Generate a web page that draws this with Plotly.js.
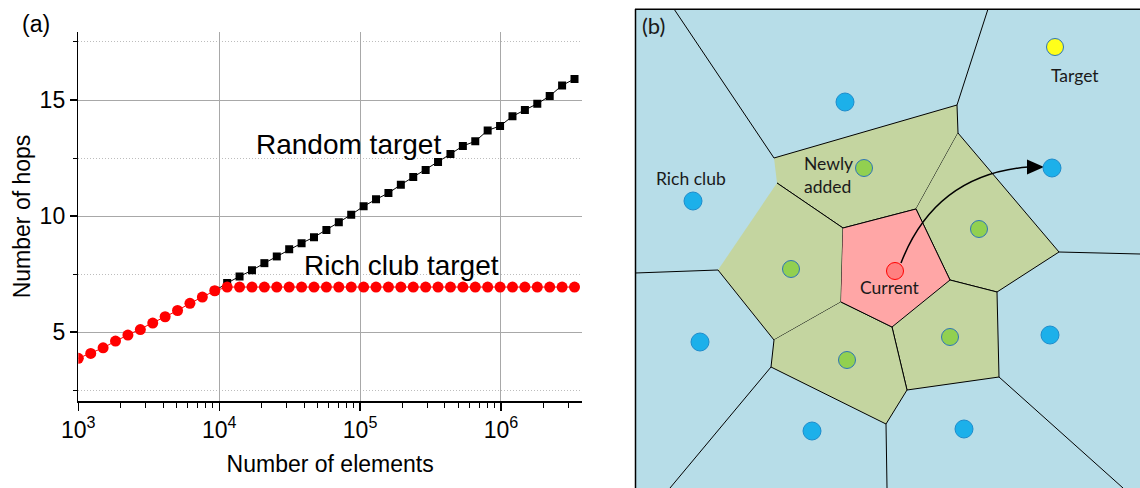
<!DOCTYPE html>
<html><head><meta charset="utf-8">
<script src="https://cdn.plot.ly/plotly-3.0.1.min.js"></script>
<style>html,body{margin:0;padding:0;background:#fff;}#chart{width:1140px;height:488px;}</style>
</head><body><div id="chart"></div>
<script>
// ---------- Panel (a) data ----------
const elements = [1000,1225,1500,1837,2250,2756,3375,4134,5063,6200,7594,9300,
  11391,13950,17086,20926,25629,31389,38443,47083,57665,70625,86498,105937,129746,
  158906,194620,238359,291929,357538,437894,536307,656841,804463,985261,1206693,
  1477892,1810039,2216838,2715057,3325257];
const richClubHops = [3.87,4.08,4.32,4.61,4.87,5.11,5.39,5.66,5.93,6.24,6.51,6.78,
  6.94,6.94,6.94,6.94,6.94,6.94,6.94,6.94,6.94,6.94,6.94,6.94,6.94,6.94,6.94,6.94,
  6.94,6.94,6.94,6.94,6.94,6.94,6.94,6.94,6.94,6.94,6.94,6.94,6.94];
const randomElements = [9300,11391,13950,17086,20926,25629,31389,38443,47083,57665,70625,
  86498,105937,129746,158906,194620,238359,291929,357538,437894,536307,656841,804463,
  985261,1206693,1477892,1810039,2216838,2715057,3325257];
const randomHops = [6.78,7.11,7.40,7.66,7.97,8.26,8.57,8.83,9.09,9.40,9.73,10.06,10.42,
  10.72,10.99,11.35,11.68,11.98,12.33,12.67,13.02,13.22,13.69,13.88,14.30,14.57,14.84,
  15.17,15.63,15.91];
const xTickVals = [1e3,1e4,1e5,1e6];
const xTickText = ['10<sup>3</sup>','10<sup>4</sup>','10<sup>5</sup>','10<sup>6</sup>'];
const xMinorVals = [2e3,3e3,4e3,5e3,6e3,7e3,8e3,9e3,2e4,3e4,4e4,5e4,6e4,7e4,8e4,9e4,
  2e5,3e5,4e5,5e5,6e5,7e5,8e5,9e5,2e6,3e6];
const yTickVals = [5,10,15];
const yMinorVals = [2.5,7.5,12.5,17.5];

// ---------- Panel (b) data (diagram coordinates) ----------
const currentCellX = [843,916,950,892,841];
const currentCellY = [228,209,280,327,302];
const newCells = [
  {x:[774,957,958,916,843,777], y:[158,105,133,209,228,183]},
  {x:[777,843,841,774,718],     y:[183,228,302,340,270]},
  {x:[958,1059,997,950,916],    y:[133,252,292,280,209]},
  {x:[950,997,999,907,892],     y:[280,292,377,390,327]},
  {x:[841,892,907,886,771,774], y:[302,327,390,424,367,340]}
];
const richEdgesX = [674,774,null,988,957,null,1059,1140,null,999,1123,null,886,887,null,771,670,null,718,635];
const richEdgesY = [9,158,null,9,105,null,252,254,null,377,488,null,424,488,null,367,488,null,270,273];
const richDotsX = [845,693,1052,700,812,1050,964];
const richDotsY = [102,201,168,342,431,335,429];
const newDotsX = [864,979,791,847,950];
const newDotsY = [168,229,269,360,337];
const currentDot = [895,271];
const targetDot = [1055,47];
const arrowCurveX = [901,935,1028];
const arrowCurveY = [263,175,167];
const arrowHeadX = [1027,1044,1027];
const arrowHeadY = [159.5,167,174.5];

const W = 1140, H = 488;
const px = v => v / W, py = v => 1 - v / H;

const traces = [];
// panel (b) cells
traces.push({x:[635,1140,1140,635], y:[9,9,488,488], xaxis:'x2', yaxis:'y2', mode:'none',
  fill:'toself', fillcolor:'#B7DDE8', hoverinfo:'skip'});
newCells.forEach(c => traces.push({x:c.x, y:c.y, xaxis:'x2', yaxis:'y2', mode:'lines',
  fill:'toself', fillcolor:'#C4D5A0', line:{color:'#000', width:1}, hoverinfo:'skip'}));
traces.push({x:currentCellX, y:currentCellY, xaxis:'x2', yaxis:'y2', mode:'lines',
  fill:'toself', fillcolor:'#FFA6A6', line:{color:'#000', width:1}, hoverinfo:'skip'});
traces.push({x:richEdgesX, y:richEdgesY, xaxis:'x2', yaxis:'y2', mode:'lines',
  line:{color:'#000', width:1}, connectgaps:false, hoverinfo:'skip'});
traces.push({x:arrowHeadX, y:arrowHeadY, xaxis:'x2', yaxis:'y2', mode:'none',
  fill:'toself', fillcolor:'#000', hoverinfo:'skip'});
traces.push({x:richDotsX, y:richDotsY, xaxis:'x2', yaxis:'y2', mode:'markers',
  marker:{size:18, color:'#1CB0EA', line:{color:'#1E8CCB', width:1}}});
traces.push({x:newDotsX, y:newDotsY, xaxis:'x2', yaxis:'y2', mode:'markers',
  marker:{size:17, color:'#92D050', line:{color:'#2E75B6', width:1}}});
traces.push({x:[currentDot[0]], y:[currentDot[1]], xaxis:'x2', yaxis:'y2', mode:'markers',
  marker:{size:17, color:'#FF8080', line:{color:'#FF0000', width:1}}});
traces.push({x:[targetDot[0]], y:[targetDot[1]], xaxis:'x2', yaxis:'y2', mode:'markers',
  marker:{size:17, color:'#FFFF1A', line:{color:'#2E75B6', width:1}}});

// panel (a)
traces.push({x:randomElements, y:randomHops, mode:'lines+markers', name:'Random target',
  line:{color:'#000', width:1}, marker:{symbol:'square', size:8, color:'#000'}});
traces.push({x:elements, y:richClubHops, mode:'lines+markers', name:'Rich club target',
  line:{color:'#FF0000', width:1}, marker:{symbol:'circle', size:11, color:'#FF0000'}});

const curvePath = 'M ' + arrowCurveX[0] + ',' + arrowCurveY[0] + ' Q ' + arrowCurveX[1] + ',' +
  arrowCurveY[1] + ' ' + arrowCurveX[2] + ',' + arrowCurveY[2];

const fontA = '"Liberation Sans", Arial, sans-serif';
const fontB = 'Lato, "Open Sans", sans-serif';
const ann = (text, x, y, size, family, color) => ({text, xref:'paper', yref:'paper', x:px(x), y:py(y),
  xanchor:'center', yanchor:'middle', showarrow:false, font:{family, size, color}});

const layout = {
  width:W, height:H, margin:{l:0,r:0,t:0,b:0}, showlegend:false,
  paper_bgcolor:'#fff', plot_bgcolor:'rgba(0,0,0,0)',
  font:{family:fontA, size:23, color:'#000'},
  xaxis:{type:'log', domain:[78.3/W, 582/W], range:[3, 6.575], anchor:'y',
    tickvals:xTickVals, ticktext:xTickText, ticks:'outside', ticklen:8, tickwidth:1.2,
    tickcolor:'#000', showline:true, linecolor:'#000', linewidth:1.5,
    showgrid:true, gridcolor:'#A8A8A8', gridwidth:1, zeroline:false,
    tickfont:{family:fontA, size:23, color:'#000'},
    minor:{tickvals:xMinorVals, ticks:'outside', ticklen:5, tickcolor:'#000', tickwidth:1, showgrid:false},
    title:{text:'Number of elements', font:{family:fontA, size:23, color:'#000'}, standoff:14}},
  yaxis:{domain:[1-401/H, 1-32/H], range:[2.03, 17.93], anchor:'x',
    tickvals:yTickVals, ticks:'outside', ticklen:7, tickwidth:1.2, tickcolor:'#000',
    showline:true, linecolor:'#000', linewidth:1.5,
    showgrid:true, gridcolor:'#A8A8A8', gridwidth:1, zeroline:false,
    tickfont:{family:fontA, size:23, color:'#000'},
    minor:{tickvals:yMinorVals, ticks:'outside', ticklen:4, tickcolor:'#000', tickwidth:1,
      showgrid:true, gridcolor:'#BDBDBD', griddash:'1px,2px', gridwidth:1},
    title:{text:'Number of hops', font:{family:fontA, size:23, color:'#000'}, standoff:2}},
  xaxis2:{domain:[635/W, 1], range:[635, 1140], visible:false, anchor:'y2', fixedrange:true},
  yaxis2:{domain:[0, 1-9/H], range:[488, 9], visible:false, anchor:'x2', fixedrange:true},
  shapes:[
    {type:'path', xref:'x2', yref:'y2', path:curvePath, line:{color:'#000', width:1.5}, layer:'above'},
    {type:'line', xref:'paper', yref:'paper', x0:px(635), x1:1, y0:py(9.3), y1:py(9.3), line:{color:'#000', width:1.5}},
    {type:'line', xref:'paper', yref:'paper', x0:px(635.5), x1:px(635.5), y0:py(9), y1:0, line:{color:'#000', width:1.5}}
  ],
  annotations:[
    ann('(a)', 35.5, 24, 23, fontA, '#000'),
    ann('Random target', 348, 144, 28, fontA, '#000'),
    ann('Rich club target', 401.5, 265, 28, fontA, '#000'),
    ann('(b)', 653, 25, 22, fontB, '#1a1a1a'),
    {text:'Rich club', xref:'x2', yref:'y2', x:691, y:178, xanchor:'center', yanchor:'middle', showarrow:false, font:{family:fontB, size:17.5, color:'#1a1a1a'}},
    {text:'Newly<br>added', xref:'x2', yref:'y2', x:802, y:175, xanchor:'left', yanchor:'middle', align:'left', showarrow:false, font:{family:fontB, size:17.5, color:'#1a1a1a'}},
    {text:'Target', xref:'x2', yref:'y2', x:1075, y:75, xanchor:'center', yanchor:'middle', showarrow:false, font:{family:fontB, size:17.5, color:'#1a1a1a'}},
    {text:'Current', xref:'x2', yref:'y2', x:890, y:287, xanchor:'center', yanchor:'middle', showarrow:false, font:{family:fontB, size:17.5, color:'#1a1a1a'}}
  ]
};

Plotly.newPlot('chart', traces, layout, {displayModeBar:false, staticPlot:true});
</script></body></html>
